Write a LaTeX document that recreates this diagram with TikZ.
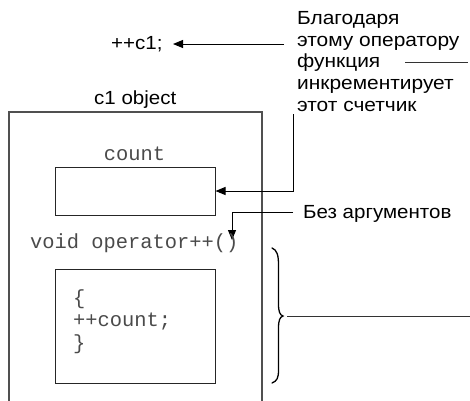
\documentclass[tikz,border=0pt]{standalone}
\usepackage{fontspec}
\setmainfont{Liberation Sans}[FakeStretch=1.08]
\newfontfamily\notefont{Liberation Sans}[FakeStretch=1.1]
\newfontfamily\codefont{Liberation Mono}
\usetikzlibrary{arrows.meta}
\definecolor{linegray}{HTML}{505050}
\definecolor{codegray}{HTML}{4a4a4a}
\tikzset{
  lab/.style={font=\fontsize{19}{20}\selectfont, inner sep=0pt, anchor=base west},
  notelab/.style={font=\notefont\fontsize{19}{20}\selectfont, inner sep=0pt, anchor=base west},
  codetxt/.style={font=\codefont\fontsize{20.4}{22}\selectfont, text=codegray, inner sep=0pt},
  boxline/.style={draw=linegray, line width=1.1pt},
  innerbox/.style={draw=black!85, line width=1pt, inner sep=0pt, minimum width=160pt},
  arr/.style={draw=black, line width=1pt, -{Triangle[length=10pt,width=8pt]}},
  plain/.style={draw=black!80, line width=1pt},
}
\begin{document}
\begin{tikzpicture}[x=1pt,y=-1pt]
\useasboundingbox (0,0) rectangle (470,400);
% top statement
\node[lab] (inc) at (111,49) {++c1;};
\coordinate (incfrom) at (284,44);
\coordinate (incto) at (173,44);
\draw[arr] (incfrom) -- (incto);
% note block
\node[notelab] (n1) at (297,24.5) {Благодаря};
\node[notelab] (n2) at (297,46.2) {этому оператору};
\node[notelab] (n3) at (297,67.8) {функция};
\node[notelab] (n4) at (297,89.4) {инкрементирует};
\node[notelab] (n5) at (297,111) {этот счетчик};
\coordinate (fa) at (405,62);
\coordinate (fb) at (468,62);
\draw[plain] (fa) -- (fb);
% object
\node[lab] (obj) at (94,104) {c1 object};
\draw[boxline] (9,401) -- (9,112) -- (262,112) -- (262,401);
% count
\node[codetxt, anchor=base] (countlab) at (134.5,160) {count};
\node[innerbox, minimum height=48pt] (countbox) at (135,191) {};
\coordinate (nt) at (293,114);
\coordinate (nb) at (293,191);
\draw[arr] (nt) -- (nb) -- (countbox.east);
% no args
\node[lab] (noarg) at (303,218) {Без аргументов};
\coordinate (na1) at (293,212);
\coordinate (na2) at (232,212);
\coordinate (na3) at (232,240);
\draw[arr] (na1) -- (na2) -- (na3);
% operator
\node[codetxt, anchor=base west] (op) at (30,248) {void operator++()};
\node[innerbox, minimum height=114pt] (fbox) at (135,326) {};
\node[codetxt, anchor=base west] (c1) at (73,304) {\{};
\node[codetxt, anchor=base west] (c2) at (73,326) {++count;};
\node[codetxt, anchor=base west] (c3) at (73,349) {\}};
% brace
\coordinate (bt) at (272,248);
\coordinate (btip) at (283,316);
\coordinate (bb) at (272,383);
\draw[black, line width=1.3pt, line cap=round]
  (bt) .. controls (277,250) and (278.5,255) .. (278.5,265)
  -- (278.5,304) .. controls (278.5,312) and (280,315) .. (btip)
  .. controls (280,317) and (278.5,320) .. (278.5,328)
  -- (278.5,370) .. controls (278.5,378) and (277,381) .. (bb);
\coordinate (ba) at (287,316);
\coordinate (bz) at (470,316);
\draw[plain] (ba) -- (bz);
\end{tikzpicture}
\end{document}
